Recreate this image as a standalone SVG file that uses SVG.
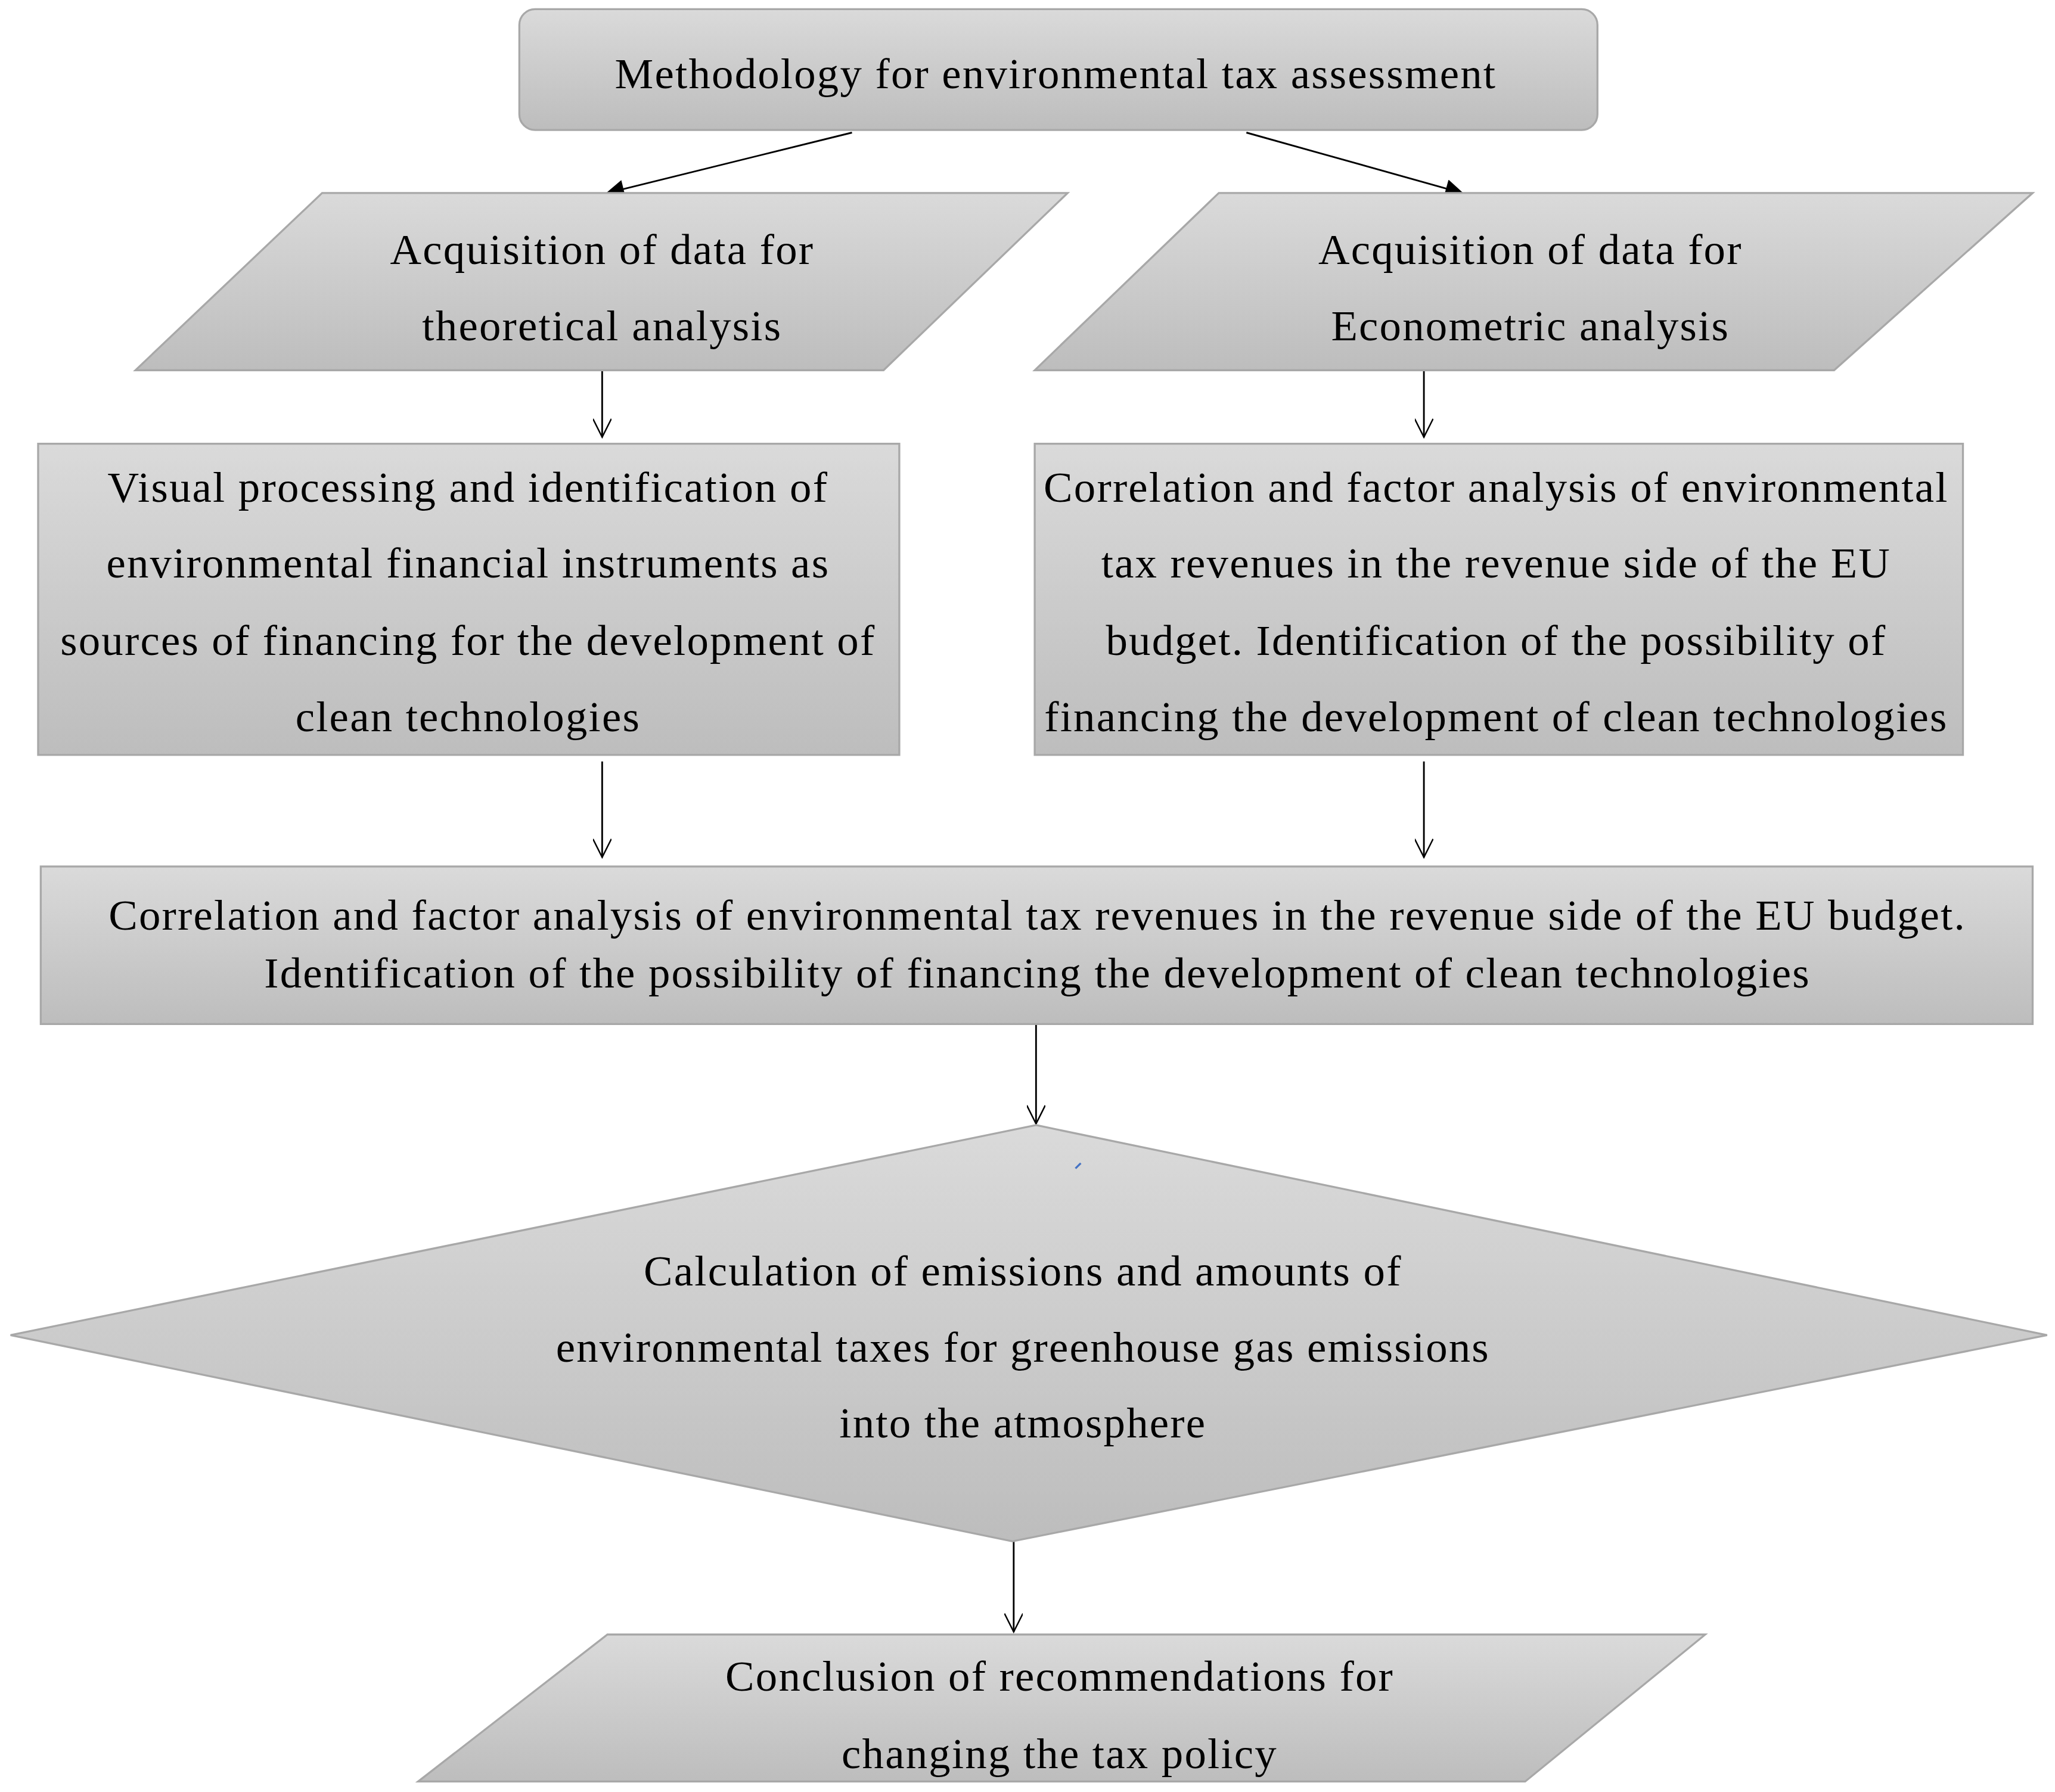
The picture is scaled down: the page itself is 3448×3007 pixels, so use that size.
<svg xmlns="http://www.w3.org/2000/svg" width="3448" height="3007" viewBox="0 0 3448 3007">
<defs>
<linearGradient id="g" x1="0" y1="0" x2="0" y2="1"><stop offset="0" stop-color="#dadada"/><stop offset="1" stop-color="#bdbdbd"/></linearGradient>
<marker id="fa" viewBox="0 0 10 10" refX="9" refY="5" markerWidth="20" markerHeight="14" orient="auto" markerUnits="userSpaceOnUse"><path d="M0,0 L10,5 L0,10 z" fill="#000"/></marker>
<marker id="oa" viewBox="0 0 10 10" refX="10" refY="5" markerWidth="20" markerHeight="14" orient="auto" markerUnits="userSpaceOnUse"><path d="M0,0 L10,5 L0,10" fill="none" stroke="#000" stroke-width="0.8"/></marker>
<style>
.n{fill:url(#g);stroke:#a8a8a8;stroke-width:1.5}
.t{font-family:"Liberation Serif",serif;font-size:33px;letter-spacing:1px;text-anchor:middle;fill:#000}
.c{stroke:#000;stroke-width:1.3;fill:none}
</style>
</defs>
<rect width="3448" height="3007" fill="#fff"/>
<g transform="scale(2.206,2.203)">
<g id="connectors">
<line class="c" x1="648" y1="101" x2="462" y2="147" marker-end="url(#fa)" stroke-width="2"/>
<line class="c" x1="948" y1="101" x2="1112" y2="147" marker-end="url(#fa)" stroke-width="2"/>
<line class="c" x1="458" y1="282" x2="458" y2="333" marker-end="url(#oa)"/>
<line class="c" x1="1083" y1="282" x2="1083" y2="333" marker-end="url(#oa)"/>
<line class="c" x1="458" y1="580" x2="458" y2="653" marker-end="url(#oa)"/>
<line class="c" x1="1083" y1="580" x2="1083" y2="653" marker-end="url(#oa)"/>
<line class="c" x1="788" y1="780" x2="788" y2="856" marker-end="url(#oa)"/>
<line class="c" x1="771" y1="1170" x2="771" y2="1243" marker-end="url(#oa)"/>
</g>
<g id="n1"><rect class="n" x="395" y="7" width="820" height="92" rx="12"/>
<text class="t" x="803" y="67">Methodology for environmental tax assessment</text></g>
<g id="n2"><polygon class="n" points="245,147 812,147 672,282 103,282"/>
<text class="t" x="458" y="201">Acquisition of data for</text><text class="t" x="458" y="259">theoretical analysis</text></g>
<g id="n3"><polygon class="n" points="927,147 1546,147 1395,282 787,282"/>
<text class="t" x="1164" y="201">Acquisition of data for</text><text class="t" x="1164" y="259">Econometric analysis</text></g>
<g id="n4"><rect class="n" x="29" y="338" width="655" height="237"/>
<text class="t" x="356" y="382">Visual processing and identification of</text>
<text class="t" x="356" y="440">environmental financial instruments as</text>
<text class="t" x="356" y="499">sources of financing for the development of</text>
<text class="t" x="356" y="557">clean technologies</text></g>
<g id="n5"><rect class="n" x="787" y="338" width="706" height="237"/>
<text class="t" x="1138" y="382">Correlation and factor analysis of environmental</text>
<text class="t" x="1138" y="440">tax revenues in the revenue side of the EU</text>
<text class="t" x="1138" y="499">budget. Identification of the possibility of</text>
<text class="t" x="1138" y="557">financing the development of clean technologies</text></g>
<g id="n6"><rect class="n" x="31" y="660" width="1515" height="120"/>
<text class="t" x="789" y="708">Correlation and factor analysis of environmental tax revenues in the revenue side of the EU budget.</text>
<text class="t" x="789" y="752">Identification of the possibility of financing the development of clean technologies</text></g>
<g id="n7"><polygon class="n" points="788,857 1557,1017 770,1174 8,1017"/>
<line x1="818" y1="890" x2="822" y2="886" stroke="#4472c4" stroke-width="1.5"/>
<text class="t" x="778" y="979">Calculation of emissions and amounts of</text>
<text class="t" x="778" y="1037">environmental taxes for greenhouse gas emissions</text>
<text class="t" x="778" y="1095">into the atmosphere</text></g>
<g id="n8"><polygon class="n" points="462,1245 1297,1245 1160,1357 318,1357"/>
<text class="t" x="806" y="1288">Conclusion of recommendations for</text>
<text class="t" x="806" y="1347">changing the tax policy</text></g>
</g>
</svg>
